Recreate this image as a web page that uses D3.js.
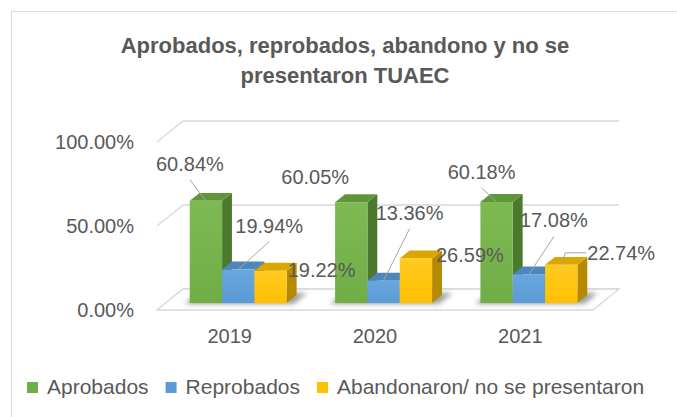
<!DOCTYPE html>
<html>
<head>
<meta charset="utf-8">
<script src="https://cdn.jsdelivr.net/npm/d3@7"></script>
<style>
  body { margin: 0; background: #fff; }
  text { font-family: "Liberation Sans", Arial, sans-serif; }
</style>
</head>
<body>
<div id="chart"></div>
<script>
// data
var years = ['2019', '2020', '2021'];
var series = ['Aprobados', 'Reprobados', 'Abandonaron/ no se presentaron'];
var aprobados = [60.84, 60.05, 60.18];
var reprobados = [19.94, 13.36, 17.08];
var abandonaron = [19.22, 26.59, 22.74];
var y_ticks = [0, 50, 100];

var values = [aprobados, reprobados, abandonaron];

// look
var colors = [
  {front: '#70ad47', light: '#7dba52', side: '#4b7a2e', top: '#5f963b'},
  {front: '#5b9bd5', light: '#68a6de', side: '#3f6f9c', top: '#4c86bd'},
  {front: '#ffc000', light: '#ffca22', side: '#b58a00', top: '#dca600'}
];
var text_color = '#595959';
var grid_color = '#d9d9d9';

// label offsets from the top of each bar [dx, dy, leader] (0 none, 1 below, 2 elbow)
var label_layout = [
  [[-16, -37, 1], [-36, -25, 0], [-15, -30, 1]],
  [[31, -44, 1], [26, -68, 1], [25, -54, 1]],
  [[51, -1, 0], [54, -3, 0], [60, -12, 2]]
];

var width = 677, height = 417;
var depth = {x: 26, y: -21};   // floor / wall depth
var f0 = 0.33, f1 = 0.71;      // bars depth range

var svg = d3.select('#chart').append('svg')
  .attr('width', width)
  .attr('height', height);

var defs = svg.append('defs');
defs.append('filter').attr('id', 'blur')
  .attr('x', '-50%').attr('y', '-50%').attr('width', '200%').attr('height', '200%')
  .append('feGaussianBlur').attr('stdDeviation', 2.5);

colors.forEach(function(c, i){
  var g = defs.append('linearGradient').attr('id', 'grad' + i)
    .attr('x1', 0).attr('y1', 0).attr('x2', 0).attr('y2', 1);
  g.append('stop').attr('offset', '0%').attr('stop-color', c.light);
  g.append('stop').attr('offset', '100%').attr('stop-color', c.front);
});

// chart border
svg.append('rect')
  .attr('x', 11.5).attr('y', 11.5)
  .attr('width', 700).attr('height', 420)
  .attr('fill', 'none')
  .attr('stroke', grid_color);

// title
var title = svg.append('text')
  .attr('text-anchor', 'middle')
  .attr('fill', text_color)
  .style('font-size', '22px')
  .style('font-weight', 'bold');
title.append('tspan').attr('x', 345).attr('y', 53).text('Aprobados, reprobados, abandono y no se');
title.append('tspan').attr('x', 345).attr('y', 83).text('presentaron TUAEC');

// scales
var x_scale = d3.scaleBand()
  .domain(years)
  .range([157, 593]);

var s_scale = d3.scaleBand()
  .domain(series)
  .range([0, 97]);

var y_scale = d3.scaleLinear()
  .domain([0, 100])
  .range([310, 142]);

function proj(x, v, f){
  return [x + depth.x * f, y_scale(v) + depth.y * f];
}

function poly(points){
  return 'M' + points.map(function(p){ return p[0] + ',' + p[1]; }).join('L') + 'Z';
}

function barX(i, j){
  var gx = x_scale(years[j]) + (x_scale.bandwidth() - 97) / 2;
  return gx + s_scale(series[i]);
}

// walls gridlines
var x_left = x_scale.range()[0], x_right = x_scale.range()[1];
y_ticks.forEach(function(t){
  var a = proj(x_left, t, 0), b = proj(x_left, t, 1), c = proj(x_right, t, 1);
  svg.append('path')
    .attr('d', 'M' + a + 'L' + b + 'L' + c)
    .attr('fill', 'none')
    .attr('stroke', grid_color)
    .attr('stroke-width', 1.3);
});

// floor
svg.append('path')
  .attr('d', poly([proj(x_left, 0, 0), proj(x_right, 0, 0), proj(x_right, 0, 1), proj(x_left, 0, 1)]))
  .attr('fill', '#fff')
  .attr('stroke', grid_color)
  .attr('stroke-width', 1.3);

// y axis labels
svg.selectAll('.y-label')
  .data(y_ticks)
  .enter()
  .append('text')
    .attr('class', 'y-label')
    .attr('x', 134)
    .attr('y', function(d){ return y_scale(d); })
    .attr('dy', '0.35em')
    .attr('text-anchor', 'end')
    .attr('fill', text_color)
    .style('font-size', '20px')
    .text(function(d){ return d.toFixed(2) + '%'; });

// category labels
svg.selectAll('.x-label')
  .data(years)
  .enter()
  .append('text')
    .attr('class', 'x-label')
    .attr('x', function(d){ return x_scale(d) + x_scale.bandwidth() / 2; })
    .attr('y', 343)
    .attr('text-anchor', 'middle')
    .attr('fill', text_color)
    .style('font-size', '20px')
    .text(function(d){ return d; });

// shadows under each group
years.forEach(function(year, j){
  var xa = barX(0, j) - 4, xb = barX(2, j) + s_scale.bandwidth() + 8;
  svg.append('path')
    .attr('d', poly([proj(xa, 0, f0 - 0.05), proj(xb, 0, f0 - 0.05), proj(xb, 0, f1 + 0.1), proj(xa, 0, f1 + 0.1)]))
    .attr('fill', '#404040')
    .attr('opacity', 0.5)
    .attr('filter', 'url(#blur)');
});

// bars
var bw = s_scale.bandwidth();
years.forEach(function(year, j){
  series.forEach(function(s, i){
    var v = values[i][j];
    var x0 = barX(i, j), x1 = x0 + bw;
    var g = svg.append('g');
    // side
    g.append('path')
      .attr('d', poly([proj(x1, 0, f0), proj(x1, 0, f1), proj(x1, v, f1), proj(x1, v, f0)]))
      .attr('fill', colors[i].side);
    // top
    g.append('path')
      .attr('d', poly([proj(x0, v, f0), proj(x1, v, f0), proj(x1, v, f1), proj(x0, v, f1)]))
      .attr('fill', colors[i].top);
    // front
    var p0 = proj(x0, v, f0), p1 = proj(x1, 0, f0);
    g.append('rect')
      .attr('x', p0[0])
      .attr('y', p0[1])
      .attr('width', p1[0] - p0[0])
      .attr('height', p1[1] - p0[1])
      .attr('fill', 'url(#grad' + i + ')');
  });
});

// data labels
series.forEach(function(s, i){
  years.forEach(function(year, j){
    var v = values[i][j];
    var top = proj(barX(i, j) + bw / 2, v, f0);
    var lay = label_layout[i][j];
    var cx = top[0] + lay[0], cy = top[1] + lay[1];

    if(lay[2] === 1){
      svg.append('line')
        .attr('x1', cx).attr('y1', cy + 16)
        .attr('x2', top[0]).attr('y2', top[1])
        .attr('stroke', '#a6a6a6');
    } else if(lay[2] === 2){
      var lx = cx - 35;
      svg.append('path')
        .attr('d', 'M' + lx + ',' + cy + 'L' + (top[0] + 4) + ',' + cy + 'L' + top[0] + ',' + top[1])
        .attr('fill', 'none')
        .attr('stroke', '#a6a6a6');
    }

    svg.append('text')
      .attr('x', cx)
      .attr('y', cy)
      .attr('dy', '0.35em')
      .attr('text-anchor', 'middle')
      .attr('fill', text_color)
      .style('font-size', '20px')
      .text(v.toFixed(2) + '%');
  });
});

// legend
var legend = svg.append('g').attr('transform', 'translate(27, 0)');
var lx = 0;
series.forEach(function(s, i){
  legend.append('rect')
    .attr('x', lx).attr('y', 382)
    .attr('width', 11).attr('height', 11)
    .attr('fill', colors[i].front);
  var t = legend.append('text')
    .attr('x', lx + 20)
    .attr('y', 394)
    .attr('fill', text_color)
    .style('font-size', '21px')
    .text(s);
  lx += 20 + t.node().getComputedTextLength() + 17;
});
</script>
</body>
</html>
